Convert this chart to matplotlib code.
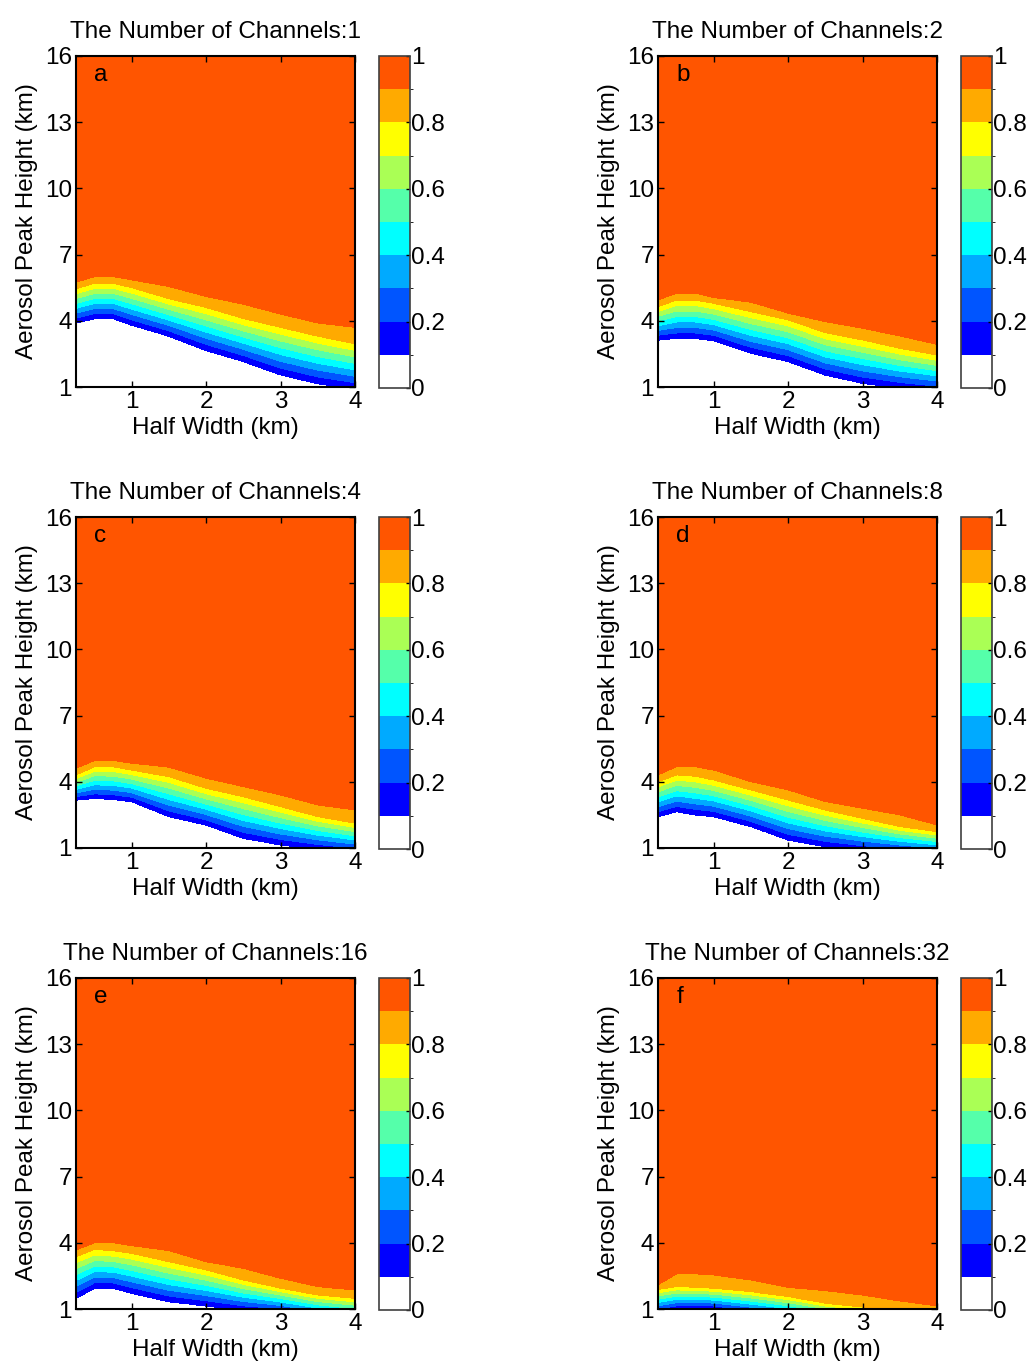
import numpy as np
import matplotlib
matplotlib.use("Agg")
import matplotlib.pyplot as plt
from matplotlib.colors import ListedColormap, BoundaryNorm
from matplotlib.ticker import FuncFormatter

plt.rcParams['font.family'] = ['Liberation Sans', 'DejaVu Sans']
fs = 17.5

# Half width sample points (km)
half_width = [0.25, 0.5, 0.75, 1.0, 1.5, 2.0, 2.5, 3.0, 3.5, 4.0]

channels = [1, 2, 4, 8, 16, 32]
panel_letters = ["a", "b", "c", "d", "e", "f"]

# Aerosol peak height (km) of the 0.1, 0.8 and 0.9 contours for each channel count
level_01 = [
    [3.9, 4.1, 4.1, 3.8, 3.3, 2.65, 2.15, 1.55, 1.15, 0.9],
    [3.13, 3.2, 3.2, 3.1, 2.53, 2.15, 1.54, 1.17, 0.95, 0.8],
    [3.17, 3.25, 3.2, 3.1, 2.42, 2.04, 1.44, 1.14, 0.95, 0.8],
    [2.42, 2.65, 2.5, 2.42, 1.97, 1.36, 1.06, 0.9, 0.8, 0.7],
    [1.48, 1.94, 1.94, 1.71, 1.33, 1.14, 0.95, 0.85, 0.6, 0.4],
    [0.85, 1.0, 1.02, 1.0, 0.8, 0.6, 0.4, 0.3, 0.2, 0.1],
]
level_08 = [
    [5.45, 5.7, 5.7, 5.5, 5.0, 4.6, 4.1, 3.7, 3.3, 2.95],
    [4.64, 4.94, 4.94, 4.79, 4.41, 4.04, 3.46, 3.13, 2.75, 2.45],
    [4.31, 4.68, 4.68, 4.53, 4.23, 3.7, 3.32, 2.87, 2.42, 2.12],
    [4.0, 4.31, 4.25, 4.08, 3.63, 3.17, 2.72, 2.34, 1.97, 1.74],
    [3.37, 3.7, 3.64, 3.52, 3.14, 2.77, 2.31, 1.94, 1.63, 1.48],
    [1.89, 2.01, 1.98, 1.94, 1.78, 1.56, 1.26, 1.08, 0.95, 0.9],
]
level_09 = [
    [5.75, 6.0, 6.0, 5.85, 5.55, 5.1, 4.75, 4.3, 3.9, 3.7],
    [4.94, 5.25, 5.25, 5.05, 4.84, 4.34, 3.96, 3.66, 3.31, 2.93],
    [4.61, 4.96, 4.96, 4.84, 4.66, 4.16, 3.78, 3.4, 2.95, 2.72],
    [4.31, 4.68, 4.68, 4.53, 4.0, 3.63, 3.1, 2.8, 2.5, 2.04],
    [3.67, 4.0, 4.0, 3.87, 3.64, 3.14, 2.84, 2.39, 2.01, 1.86],
    [2.09, 2.59, 2.59, 2.54, 2.31, 1.98, 1.83, 1.63, 1.36, 1.14],
]

cbar_ticks = [0, 0.2, 0.4, 0.6, 0.8, 1]

band_colors = ["#FFFFFF", "#0000FF", "#0055FF", "#00AAFF", "#00FFFF",
               "#55FFAA", "#AAFF55", "#FFFF00", "#FFAA00", "#FF5500"]
levels = np.linspace(0, 1, 11)
cmap = ListedColormap(band_colors)

W, H = 1033, 1365
fig = plt.figure(figsize=(W / 100, H / 100), dpi=100)

col_left = [76, 658]
cbar_left = [379, 961]
row_top = [56, 517, 978]
ax_w, ax_h = 279, 331

xg = np.linspace(0.25, 4.0, 301)
yg = np.linspace(1.0, 16.0, 601)

for k in range(6):
    r, c = divmod(k, 2)
    ax = fig.add_axes([col_left[c] / W, 1 - (row_top[r] + ax_h) / H, ax_w / W, ax_h / H])
    cax = fig.add_axes([cbar_left[c] / W, 1 - (row_top[r] + ax_h + 1) / H, 31 / W, (ax_h + 1) / H])

    # build the field column by column from the contour heights
    lo = np.interp(xg, half_width, level_01[k])
    mid = np.interp(xg, half_width, level_08[k])
    hi = np.interp(xg, half_width, level_09[k])
    z = np.zeros((yg.size, xg.size))
    for j in range(xg.size):
        z[:, j] = np.interp(yg, [lo[j] - 1, lo[j], mid[j], hi[j], hi[j] + 1],
                            [0.0, 0.1, 0.8, 0.9, 1.0])
    z = np.clip(z, 0.001, 0.999)

    # separate norm per panel so colorbars don't reset each other
    norm = BoundaryNorm(levels, cmap.N)
    cf = ax.contourf(xg, yg, z, levels=levels, cmap=cmap, norm=norm)
    ax.set_xlim(0.25, 4)
    ax.set_ylim(1, 16)
    ax.set_xticks([1, 2, 3, 4])
    ax.set_yticks([1, 4, 7, 10, 13, 16])
    ax.tick_params(direction="in", top=True, right=True, length=4, width=1,
                   labelsize=fs, pad=3)
    for s in ax.spines.values():
        s.set_linewidth(1.5)
    ax.set_xlabel("Half Width (km)", fontsize=fs, labelpad=3)
    ax.set_ylabel("Aerosol Peak Height (km)", fontsize=fs, labelpad=5)
    ax.set_title("The Number of Channels:%d" % channels[k], fontsize=fs, pad=13)
    ax.text(0.065, 0.975, panel_letters[k], transform=ax.transAxes,
            fontsize=fs, va="top", ha="left")

    cb = fig.colorbar(cf, cax=cax)
    cb.set_ticks(cbar_ticks)
    cb.ax.yaxis.set_major_formatter(FuncFormatter(lambda v, p: "%g" % v))
    cb.ax.tick_params(direction="in", length=3, width=1, labelsize=fs, pad=1)
    cb.outline.set_edgecolor("#404040")
    cb.outline.set_linewidth(1.2)

fig.savefig("out.png", dpi=100)
